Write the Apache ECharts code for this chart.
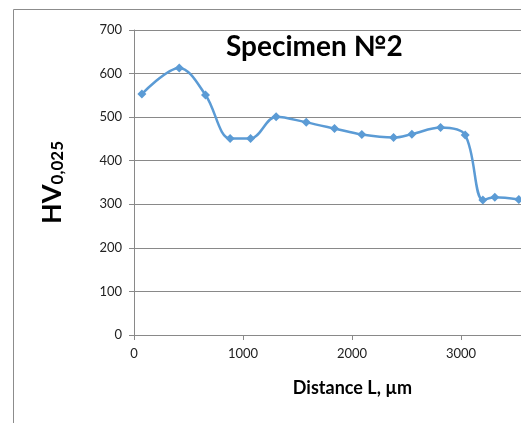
<!DOCTYPE html>
<html>
<head>
<meta charset="utf-8">
<script src="https://cdn.jsdelivr.net/npm/echarts@6/dist/echarts.min.js"></script>
<style>
  html, body { margin: 0; padding: 0; background: #fff; }
  #chart { width: 521px; height: 423px; }
</style>
</head>
<body>
<div id="chart"></div>
<script>
// distance from edge, um
var distances = [72, 415, 656, 882, 1069, 1304, 1580, 1839, 2090, 2381, 2549, 2812, 3038, 3200, 3310, 3530];
// microhardness HV0,025
var hardness = [553, 613, 551, 451, 451, 501, 488, 474, 460, 453, 461, 476, 459, 310, 316, 311];

var FONT = 'Lato, "Open Sans", sans-serif';
var GREY = '#898989';

var chart = echarts.init(document.getElementById('chart'));

var option = {
  animation: false,
  textStyle: { fontFamily: FONT },
  title: {
    text: 'Specimen №2',
    left: 221,
    top: 28,
    textStyle: { fontSize: 28, fontWeight: 'bold', color: '#000', fontFamily: FONT }
  },
  grid: { left: 134, right: 0, top: 30, bottom: 88 },
  xAxis: {
    type: 'value',
    min: 0,
    max: 3550,
    interval: 1000,
    name: 'Distance L, µm',
    nameLocation: 'middle',
    nameGap: 44,
    nameTextStyle: { fontSize: 18, fontWeight: 'bold', color: '#000', padding: [0, 0, 0, 50] },
    axisLine: { lineStyle: { color: GREY } },
    axisTick: { inside: false, length: 5, lineStyle: { color: GREY } },
    axisLabel: { fontSize: 13, color: '#222', margin: 12, showMaxLabel: false, formatter: function (v) { return String(v); } },
    splitLine: { show: false }
  },
  yAxis: {
    type: 'value',
    min: 0,
    max: 700,
    interval: 100,
    name: '{a|HV}{b|0,025}',
    nameLocation: 'middle',
    nameRotate: 90,
    nameGap: 68,
    nameTextStyle: {
      padding: [0, 0, 0, 0],
      rich: {
        a: { fontSize: 27, fontWeight: 'bold', color: '#000', fontFamily: FONT, verticalAlign: 'bottom', lineHeight: 30 },
        b: { fontSize: 17, fontWeight: 'bold', color: '#000', fontFamily: FONT, verticalAlign: 'bottom', lineHeight: 20 }
      }
    },
    axisLine: { show: true, lineStyle: { color: GREY } },
    axisTick: { show: true, length: 5, lineStyle: { color: GREY } },
    axisLabel: { fontSize: 13, color: '#222', margin: 12 },
    splitLine: { lineStyle: { color: GREY, width: 1 } }
  },
  graphic: [
    { type: 'line', shape: { x1: 13.5, y1: 9.5, x2: 521, y2: 9.5 }, style: { stroke: '#8c8c8c', lineWidth: 1 } },
    { type: 'line', shape: { x1: 13.5, y1: 9.5, x2: 13.5, y2: 423 }, style: { stroke: '#8c8c8c', lineWidth: 1 } }
  ],
  series: [{
    type: 'line',
    smooth: 0.35,
    data: distances.map(function (d, i) { return [d, hardness[i]]; }),
    symbol: 'diamond',
    symbolSize: 9,
    itemStyle: { color: '#5b9bd5' },
    lineStyle: { color: '#5b9bd5', width: 2.5 },
    clip: true
  }]
};

chart.setOption(option);
</script>
</body>
</html>
